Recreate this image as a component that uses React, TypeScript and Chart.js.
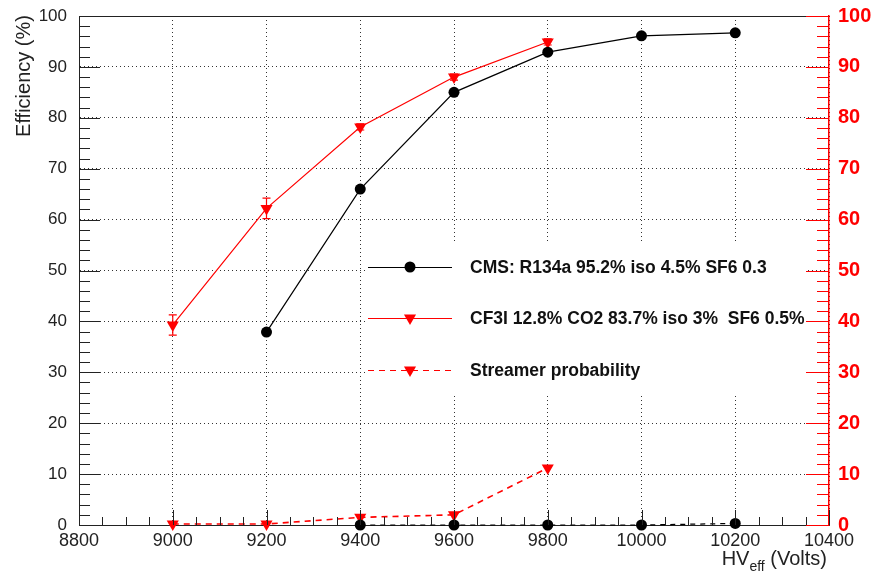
import React, { useEffect, useRef } from "react";
import { Chart, registerables } from "chart.js";

Chart.register(...registerables);

// ---------- data ----------
const cmsHV = [9200, 9400, 9600, 9800, 10000, 10200];
const cmsEff = [37.9, 66.0, 85.0, 92.9, 96.1, 96.7];

const cf3iHV = [9000, 9200, 9400, 9600, 9800];
const cf3iEff = [39.3, 62.2, 78.2, 88.0, 94.9];
const cf3iErr = [2.0, 2.0, 0.6, 0.6, 0.6];

const cf3iStreamHV = [9000, 9200, 9400, 9600, 9800];
const cf3iStream = [0.2, 0.2, 1.5, 2.0, 11.2];

const cmsStreamHV = [9400, 9600, 9800, 10000, 10200];
const cmsStream = [0, 0, 0, 0, 0.3];

const xTicks = [8800, 9000, 9200, 9400, 9600, 9800, 10000, 10200, 10400];
const yTicks = [0, 10, 20, 30, 40, 50, 60, 70, 80, 90, 100];

const legendLabels = [
  "CMS: R134a 95.2% iso 4.5% SF6 0.3",
  "CF3I 12.8% CO2 83.7% iso 3%  SF6 0.5%",
  "Streamer probability",
];

const FONT = '"Liberation Sans", Arial, Helvetica, sans-serif';
const RED = "#ff0000";

const pts = (xs: number[], ys: number[]) => xs.map((x, i) => ({ x, y: ys[i] }));

const customPlugin = {
  id: "custom",
  beforeDatasetsDraw(chart: any) {
    const ctx = chart.ctx;
    const { x, y } = chart.scales;
    ctx.save();
    ctx.fillStyle = "#ffffff";
    ctx.fillRect(365, 243, 806 - 365, 393 - 243);
    ctx.strokeStyle = RED;
    ctx.lineWidth = 1.2;
    cf3iHV.forEach((hv, i) => {
      const px = x.getPixelForValue(hv);
      const top = y.getPixelForValue(cf3iEff[i] + cf3iErr[i]);
      const bot = y.getPixelForValue(cf3iEff[i] - cf3iErr[i]);
      ctx.beginPath();
      ctx.moveTo(px, top);
      ctx.lineTo(px, bot);
      ctx.moveTo(px - 4, top);
      ctx.lineTo(px + 4, top);
      ctx.moveTo(px - 4, bot);
      ctx.lineTo(px + 4, bot);
      ctx.stroke();
    });
    ctx.restore();
  },
  afterDraw(chart: any) {
    const ctx = chart.ctx;
    const { left, right, top, bottom } = chart.chartArea;
    const { x, y, y2 } = chart.scales;
    ctx.save();
    ctx.strokeStyle = "#222";
    ctx.lineWidth = 1;
    ctx.beginPath();
    ctx.moveTo(left, top + 0.5);
    ctx.lineTo(right, top + 0.5);
    ctx.stroke();
    for (let v = 0; v <= 100; v += 2) {
      const py = Math.round(y.getPixelForValue(v)) + 0.5;
      const len = v % 10 === 0 ? 21 : 11;
      ctx.beginPath();
      ctx.moveTo(left, py);
      ctx.lineTo(left + len, py);
      ctx.stroke();
    }
    for (let v = 8800; v <= 10400; v += 50) {
      const px = Math.round(x.getPixelForValue(v)) + 0.5;
      const len = v % 200 === 0 ? 15 : 8;
      ctx.beginPath();
      ctx.moveTo(px, bottom);
      ctx.lineTo(px, bottom - len);
      ctx.stroke();
    }
    ctx.strokeStyle = RED;
    for (let v = 0; v <= 100; v += 2) {
      const py = Math.round(y2.getPixelForValue(v)) + 0.5;
      const len = v % 10 === 0 ? 23 : 12;
      ctx.beginPath();
      ctx.moveTo(right, py);
      ctx.lineTo(right - len, py);
      ctx.stroke();
    }
    // y title
    ctx.fillStyle = "#222";
    ctx.font = `20px ${FONT}`;
    ctx.save();
    ctx.translate(24, 76);
    ctx.rotate(-Math.PI / 2);
    ctx.textAlign = "center";
    ctx.textBaseline = "middle";
    ctx.fillText("Efficiency (%)", 0, 0);
    ctx.restore();
    // x title
    ctx.textBaseline = "alphabetic";
    ctx.textAlign = "left";
    ctx.font = `20px ${FONT}`;
    const wHV = ctx.measureText("HV").width;
    const wRest = ctx.measureText(" (Volts)").width;
    ctx.font = `14px ${FONT}`;
    const wSub = ctx.measureText("eff").width;
    const xEnd = 827;
    const base = 565;
    let cx = xEnd - wHV - wSub - wRest;
    ctx.font = `20px ${FONT}`;
    ctx.fillText("HV", cx, base);
    cx += wHV;
    ctx.font = `14px ${FONT}`;
    ctx.fillText("eff", cx, base + 6);
    cx += wSub;
    ctx.font = `20px ${FONT}`;
    ctx.fillText(" (Volts)", cx, base);

    // legend
    const rows = [267, 318, 370];
    const lx0 = 368, lx1 = 452, mx = 410, tx = 470;
    ctx.font = `bold 17.5px ${FONT}`;
    ctx.textBaseline = "middle";
    rows.forEach((ry, i) => {
      ctx.save();
      ctx.lineWidth = 1.2;
      ctx.strokeStyle = i === 0 ? "#000" : RED;
      if (i === 2) ctx.setLineDash([6, 5]);
      ctx.beginPath();
      ctx.moveTo(lx0, ry + 0.5);
      ctx.lineTo(lx1, ry + 0.5);
      ctx.stroke();
      ctx.restore();
      if (i === 0) {
        ctx.fillStyle = "#000";
        ctx.beginPath();
        ctx.arc(mx, ry, 5.5, 0, Math.PI * 2);
        ctx.fill();
      } else {
        ctx.fillStyle = RED;
        const r = 7;
        ctx.beginPath();
        ctx.moveTo(mx, ry + r);
        ctx.lineTo(mx - r * 0.866, ry - r / 2);
        ctx.lineTo(mx + r * 0.866, ry - r / 2);
        ctx.closePath();
        ctx.fill();
      }
      ctx.fillStyle = "#111";
      ctx.fillText(legendLabels[i], tx, ry + 1);
    });
    ctx.restore();
  },
};

export default function App() {
  const ref = useRef<HTMLCanvasElement | null>(null);

  useEffect(() => {
    document.body.style.margin = "0";
    const canvas = ref.current;
    if (!canvas) return;
    const triangle = {
      pointStyle: "triangle" as const,
      rotation: 180,
      pointRadius: 7,
      pointBackgroundColor: RED,
      pointBorderColor: RED,
      pointBorderWidth: 0,
    };
    const fmt = (v: any) => String(v);
    const chart = new Chart(canvas, {
      type: "line",
      data: {
        datasets: [
          {
            label: "cmsStream",
            data: pts(cmsStreamHV, cmsStream),
            yAxisID: "y2",
            borderColor: "#000",
            borderWidth: 1.2,
            borderDash: [5, 5],
            pointRadius: 5.5,
            pointBackgroundColor: "#000",
            pointBorderColor: "#000",
            pointBorderWidth: 0,
            clip: false as any,
          },
          {
            label: legendLabels[0],
            data: pts(cmsHV, cmsEff),
            yAxisID: "y",
            borderColor: "#000",
            borderWidth: 1.2,
            tension: 0,
            pointRadius: 5.5,
            pointBackgroundColor: "#000",
            pointBorderColor: "#000",
            pointBorderWidth: 0,
            clip: false as any,
          },
          {
            label: legendLabels[1],
            data: pts(cf3iHV, cf3iEff),
            yAxisID: "y",
            borderColor: RED,
            borderWidth: 1.2,
            tension: 0,
            ...triangle,
            clip: false as any,
          },
          {
            label: legendLabels[2],
            data: pts(cf3iStreamHV, cf3iStream),
            yAxisID: "y2",
            borderColor: RED,
            borderWidth: 1.6,
            borderDash: [6, 5],
            tension: 0,
            ...triangle,
            clip: false as any,
          },
        ],
      },
      options: {
        responsive: false,
        animation: false,
        layout: { padding: { top: 16, left: 0, right: 0, bottom: 0 } },
        plugins: { legend: { display: false }, tooltip: { enabled: false } },
        elements: { line: { fill: false } },
        scales: {
          x: {
            type: "linear",
            min: 8800,
            max: 10400,
            afterBuildTicks: (s: any) => {
              s.ticks = xTicks.map((v) => ({ value: v }));
            },
            afterFit: (s: any) => {
              s.height = 48;
              s.paddingLeft = 0;
              s.paddingRight = 0;
            },
            ticks: {
              color: "#222",
              font: { family: FONT, size: 18 },
              padding: 5,
              maxRotation: 0,
              autoSkip: false,
              callback: fmt,
            },
            grid: {
              color: "#333",
              lineWidth: 1,
              drawTicks: false,
            },
            border: { color: "#222", width: 1, dash: [1, 3] } as any,
          },
          y: {
            type: "linear",
            position: "left",
            min: 0,
            max: 100,
            afterBuildTicks: (s: any) => {
              s.ticks = yTicks.map((v) => ({ value: v }));
            },
            afterFit: (s: any) => {
              s.width = 79;
              s.paddingTop = 0;
              s.paddingBottom = 0;
            },
            ticks: {
              color: "#222",
              font: { family: FONT, size: 17 },
              padding: 12,
              autoSkip: false,
              callback: fmt,
            },
            grid: {
              color: "#333",
              lineWidth: 1,
              drawTicks: false,
            },
            border: { color: "#222", width: 1, dash: [1, 3] } as any,
          },
          y2: {
            type: "linear",
            position: "right",
            min: 0,
            max: 100,
            afterBuildTicks: (s: any) => {
              s.ticks = yTicks.map((v) => ({ value: v }));
            },
            afterFit: (s: any) => {
              s.width = 44;
              s.paddingTop = 0;
              s.paddingBottom = 0;
            },
            ticks: {
              color: RED,
              font: { family: FONT, size: 20, weight: "bold" },
              padding: 9,
              autoSkip: false,
              callback: fmt,
            },
            grid: { drawOnChartArea: false, drawTicks: false },
            border: { color: RED, width: 1.5 } as any,
          },
        },
      },
      plugins: [customPlugin],
    });
    return () => chart.destroy();
  }, []);

  return (
    <canvas
      ref={ref}
      width={873}
      height={573}
      style={{ display: "block", position: "absolute", left: 0, top: 0 }}
    />
  );
}
